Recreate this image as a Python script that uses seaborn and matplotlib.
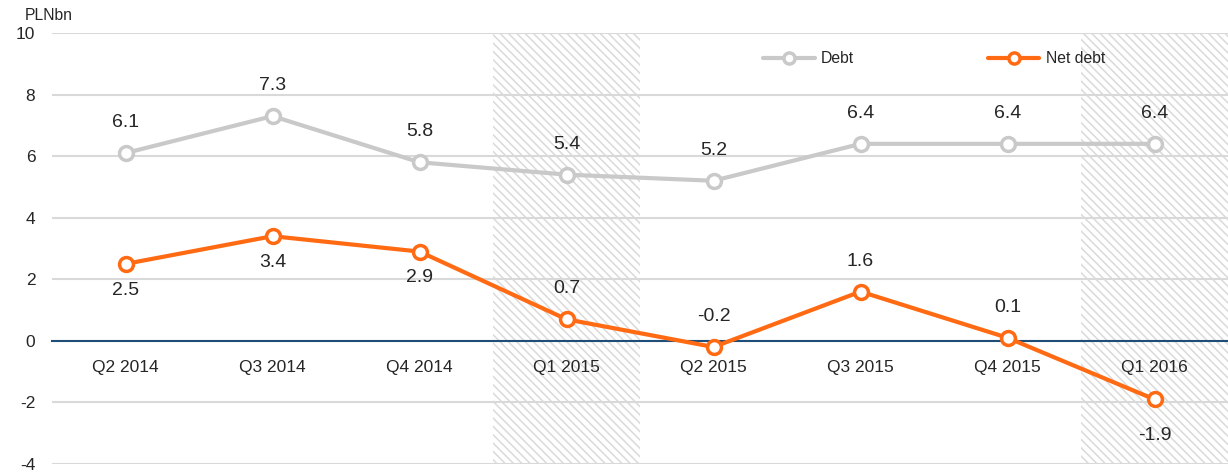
import numpy as np
import pandas as pd
import matplotlib
matplotlib.use('Agg')
import matplotlib.pyplot as plt
import seaborn as sns

quarters = ['Q2 2014', 'Q3 2014', 'Q4 2014', 'Q1 2015', 'Q2 2015',
            'Q3 2015', 'Q4 2015', 'Q1 2016']
debt = [6.1, 7.3, 5.8, 5.4, 5.2, 6.4, 6.4, 6.4]
net_debt = [2.5, 3.4, 2.9, 0.7, -0.2, 1.6, 0.1, -1.9]
shaded = ['Q1 2015', 'Q1 2016']
# where the net debt value label sits relative to its point
net_side = ['below', 'below', 'below', 'above', 'above', 'above', 'above', 'below']

GRAY = '#C9C9C9'
ORANGE = '#FF6A13'
NAVY = '#1F4E79'

sns.set_style('white')
plt.rcParams['font.family'] = ['Liberation Sans', 'DejaVu Sans']
plt.rcParams['axes.unicode_minus'] = False
plt.rcParams['hatch.color'] = '#DADADA'
plt.rcParams['hatch.linewidth'] = 1.1

df = pd.DataFrame({'x': np.arange(len(quarters)), 'Debt': debt, 'Net debt': net_debt})

fig = plt.figure(figsize=(12.28, 4.72), dpi=100)
ax = fig.add_axes([52 / 1228, 8 / 472, 1 - 52 / 1228, (464 - 33) / 472])

# hatched quarters
for q in shaded:
    i = quarters.index(q)
    ax.axvspan(i - 0.5, i + 0.5, facecolor='none', edgecolor='#DADADA',
               hatch='\\\\\\\\', linewidth=0, zorder=0)

ax.set_ylim(-4, 10)
ax.set_yticks(range(-4, 11, 2))
ax.set_xlim(-0.5, len(quarters) - 0.5)
ax.yaxis.grid(True, color='#D9D9D9', linewidth=1.5)
ax.set_axisbelow(True)

sns.lineplot(data=df, x='x', y='Debt', ax=ax, color=GRAY, linewidth=3,
             marker='o', markersize=10, markerfacecolor='white',
             markeredgecolor=GRAY, markeredgewidth=2.5, label='Debt', zorder=3)
sns.lineplot(data=df, x='x', y='Net debt', ax=ax, color=ORANGE, linewidth=3,
             marker='o', markersize=10, markerfacecolor='white',
             markeredgecolor=ORANGE, markeredgewidth=2.5, label='Net debt', zorder=4)

for i, v in enumerate(debt):
    ax.annotate(f'{v:.1f}', (i, v), xytext=(0, 22), textcoords='offset points',
                ha='center', va='center', fontsize=14)
for i, v in enumerate(net_debt):
    dy = 22 if net_side[i] == 'above' else -19
    if i == len(net_debt) - 1:
        dy = -26
    ax.annotate(f'{v:.1f}', (i, v), xytext=(0, dy), textcoords='offset points',
                ha='center', va='center', fontsize=14)

for s in ['top', 'right', 'left']:
    ax.spines[s].set_visible(False)
ax.spines['bottom'].set_position(('data', 0))
ax.spines['bottom'].set_color(NAVY)
ax.spines['bottom'].set_linewidth(1.5)
ax.spines['bottom'].set_zorder(2)

ax.set_xticks(df['x'])
ax.set_xticklabels(quarters)
ax.tick_params(axis='x', length=0, pad=14, labelsize=12.5)
ax.tick_params(axis='y', length=0, pad=12, labelsize=12.5)
ax.set_xlabel('')
ax.set_ylabel('')

fig.text(25 / 1228, 1 - 16 / 472, 'PLNbn', fontsize=11.3, va='center', ha='left')

ax.legend(loc='center', bbox_to_anchor=(0.75, 0.94), ncol=2, frameon=False,
          fontsize=11.3, columnspacing=8.5, handlelength=3.3, handletextpad=0.4,
          markerscale=0.8)

fig.savefig('out.png', dpi=100)
